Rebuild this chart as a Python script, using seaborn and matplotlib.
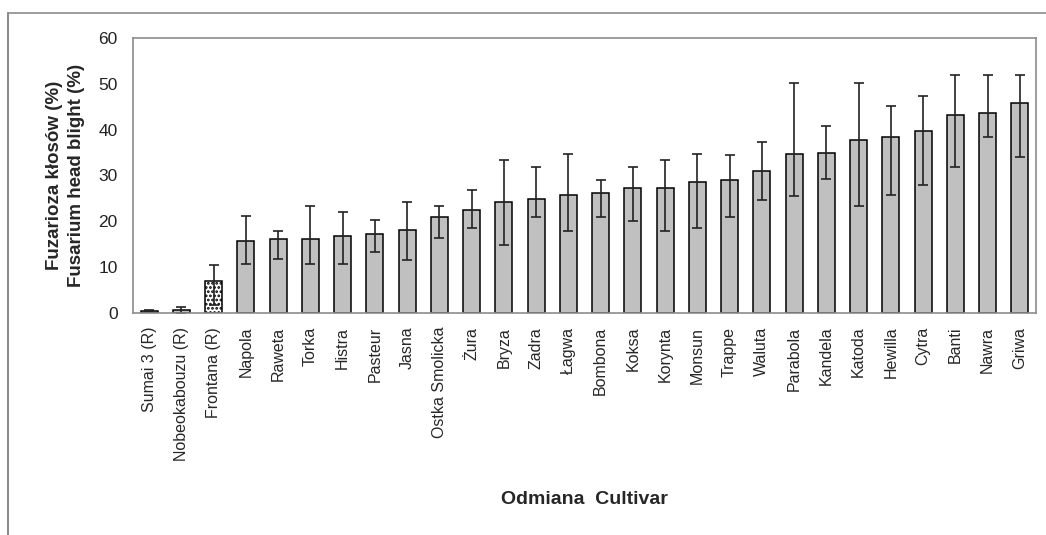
import numpy as np
import pandas as pd
import matplotlib
matplotlib.use("Agg")
import matplotlib.pyplot as plt
import seaborn as sns
from matplotlib.lines import Line2D

# odmiany (cultivars) i średnie porażenie
cultivars = ["Sumai 3 (R)", "Nobeokabouzu (R)", "Frontana (R)", "Napola", "Raweta",
             "Torka", "Histra", "Pasteur", "Jasna", "Ostka Smolicka", "Żura", "Bryza",
             "Zadra", "Łagwa", "Bombona", "Koksa", "Korynta", "Monsun", "Trappe",
             "Waluta", "Parabola", "Kandela", "Katoda", "Hewilla", "Cytra", "Banti",
             "Nawra", "Griwa"]
mean_fhb = [0.5, 0.6, 7.0, 15.8, 16.1, 16.1, 16.7, 17.3, 18.2, 20.9, 22.5, 24.3,
            24.9, 25.8, 26.1, 27.3, 27.3, 28.5, 29.1, 31.0, 34.6, 34.9, 37.7, 38.3,
            39.8, 43.1, 43.7, 45.8]
# zakres (min / max) dla słupków błędu
low_fhb = [0.4, 0.0, 1.7, 10.6, 11.8, 10.6, 10.6, 13.4, 11.6, 16.4, 18.5, 14.9,
           20.9, 17.9, 20.9, 20.0, 17.9, 18.5, 20.9, 24.6, 25.5, 29.2, 23.4, 25.8,
           27.9, 31.9, 38.3, 34.0]
high_fhb = [0.6, 1.3, 10.5, 21.2, 17.9, 23.4, 22.1, 20.3, 24.3, 23.3, 26.8, 33.4,
            31.8, 34.6, 29.1, 31.8, 33.4, 34.6, 34.5, 37.3, 50.2, 40.9, 50.2, 45.2,
            47.3, 51.9, 51.9, 51.9]

df = pd.DataFrame({"Odmiana": cultivars, "FHB": mean_fhb})

sns.set_style("white")
plt.rcParams["font.family"] = ["Liberation Sans", "DejaVu Sans"]
plt.rcParams["hatch.linewidth"] = 1.3
plt.rcParams["hatch.color"] = "#444444"

fig = plt.figure(figsize=(10.46, 5.35), dpi=100)
ax = fig.add_axes([0.1272, 0.415, 0.8632, 0.514])

sns.barplot(data=df, x="Odmiana", y="FHB", color="#c0c0c0", saturation=1,
            edgecolor="black", linewidth=1.1, width=0.53, ax=ax)

# Frontana - słupek kropkowany
ax.patches[2].set_facecolor("white")
ax.patches[2].set_hatch("....")

x = np.arange(len(cultivars))
m = np.array(mean_fhb)
err = [m - np.array(low_fhb), np.array(high_fhb) - m]
ax.errorbar(x, m, yerr=err, fmt="none", ecolor="#222222", elinewidth=1.2,
            capsize=3.6, capthick=1.2)

ax.set_xlim(-0.5, len(cultivars) - 0.5)
ax.set_ylim(0, 60)
ax.set_yticks(range(0, 61, 10))

for s in ax.spines.values():
    s.set_color("#8c8c8c")
    s.set_linewidth(1.2)

ax.set_xticks(x)
ax.set_xticklabels(cultivars, rotation=90, fontsize=11.5, va="top")
ax.set_xticks(np.arange(-0.5, len(cultivars)), minor=True)
ax.tick_params(axis="x", which="major", length=0, pad=10)
ax.tick_params(axis="x", which="minor", direction="inout", length=8,
               color="#8c8c8c", width=1.2)
ax.tick_params(axis="y", direction="out", length=5, color="#8c8c8c",
               width=1.2, labelsize=12.5, pad=6, labelcolor="#222222")

ax.set_ylabel("Fuzarioza kłosów (%)\nFusarium head blight (%)", fontsize=13.5,
              fontweight="bold", linespacing=1.35, labelpad=10)
ax.set_xlabel("")
fig.text(0.5587, 1 - 500 / 535, "Odmiana  Cultivar", fontsize=14,
         fontweight="bold", ha="center", va="center")

# ramka wykresu (góra i lewa strona)
fig.add_artist(Line2D([8 / 1046, 1], [1 - 13 / 535] * 2, color="#8c8c8c", lw=1.2))
fig.add_artist(Line2D([8 / 1046] * 2, [0, 1 - 13 / 535], color="#8c8c8c", lw=1.5))

fig.savefig("out.png", dpi=100)
